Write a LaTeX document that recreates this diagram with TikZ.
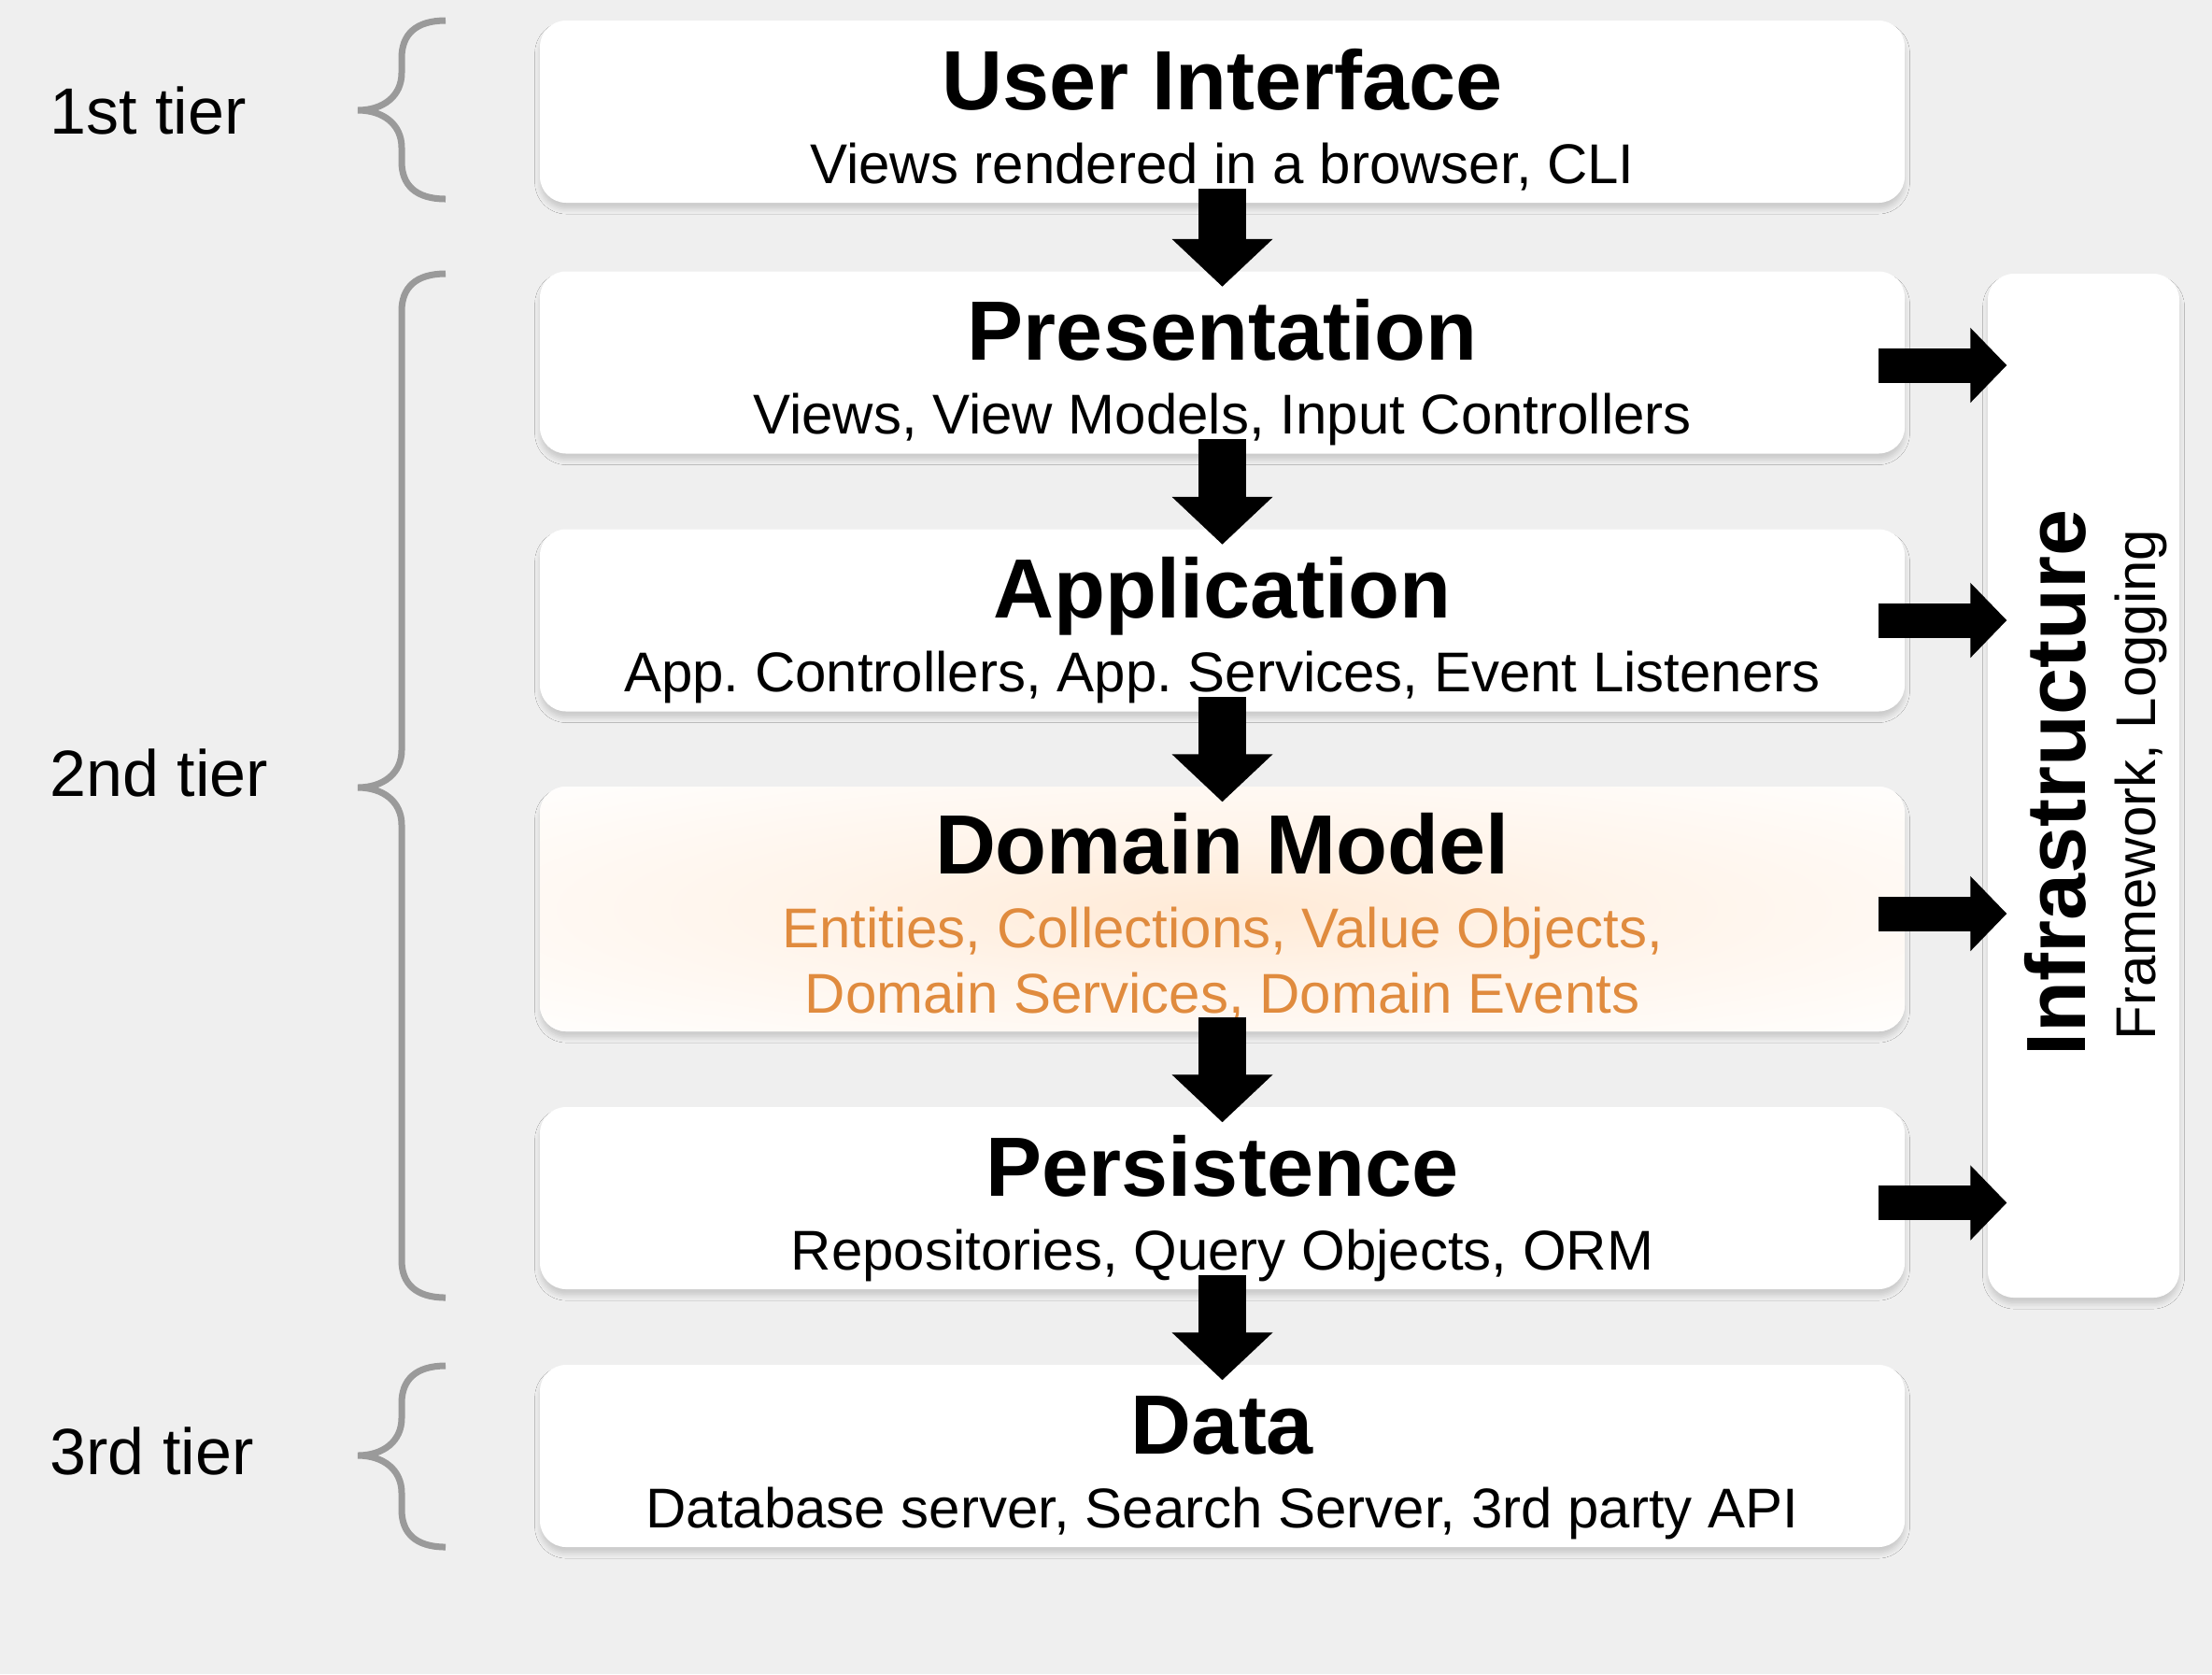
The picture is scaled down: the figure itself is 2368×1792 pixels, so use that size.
\documentclass[tikz,border=0pt]{standalone}
\usepackage{fontspec}
\setmainfont{Liberation Sans}
\usetikzlibrary{arrows.meta,calc,shadows.blur}
\definecolor{bgcol}{HTML}{EFEFEF}
\definecolor{bracegray}{HTML}{9A9A9A}
\definecolor{domorange}{HTML}{E08B3E}
\definecolor{glowA}{HTML}{FFEAD6}
\definecolor{glowB}{HTML}{FFF4EA}
\pgfdeclareradialshading{domglow}{\pgfpoint{0bp}{0bp}}{color(0bp)=(glowA); color(15bp)=(glowB); color(38bp)=(white); color(50bp)=(white)}
\frenchspacing
\begin{document}
\begin{tikzpicture}[x=0.3pt,y=-0.3pt,
  tbox/.style={rounded corners=8.4pt, fill=white, minimum width=438.3pt, minimum height=58.5pt, inner sep=0pt,
    blur shadow={shadow xshift=0pt, shadow yshift=-2pt, shadow blur radius=1.6pt, shadow opacity=15}},
  ttl/.style={font=\fontsize{27}{32}\selectfont\bfseries, anchor=base, inner sep=0pt},
  sub/.style={font=\fontsize{18}{20.4}\selectfont, anchor=base, inner sep=0pt},
  tier/.style={font=\fontsize{21}{25}\selectfont, anchor=base west, inner sep=0pt},
  brace/.style={draw=bracegray, line width=2.1pt},
  downarrow/.style={line width=15.3pt, -{Triangle[length=15.3pt,width=31.5pt]}},
  rightarrow/.style={line width=11.1pt, -{Triangle[length=11.7pt,width=23.4pt]}},
]
\useasboundingbox (0,0) rectangle (2368,1792);
\fill[bgcol] (0,0) rectangle (2368,1792);

% layer boxes
\node[tbox] (ui) at (1308.5,119.5) {};
\node[tbox] (pres) at (1308.5,388) {};
\node[tbox] (app) at (1308.5,664) {};
\node[tbox, minimum height=78.6pt, shade, shading=domglow] (dom) at (1308.5,973) {};
\node[tbox] (pers) at (1308.5,1282.5) {};
\node[tbox] (data) at (1308.5,1558.5) {};
\node[tbox, minimum width=61.5pt, minimum height=328.8pt] (infra) at (2230.5,841) {};

% texts
\node[ttl] (ui-t) at ($(ui.north)+(0,96)$) {User Interface};
\node[sub] (ui-s) at ($(ui.north)+(0,175)$) {Views rendered in a browser, CLI};
\node[ttl] (pres-t) at ($(pres.north)+(0,96)$) {Presentation};
\node[sub] (pres-s) at ($(pres.north)+(0,175)$) {Views, View Models, Input Controllers};
\node[ttl] (app-t) at ($(app.north)+(0,96)$) {Application};
\node[sub] (app-s) at ($(app.north)+(0,175)$) {App. Controllers, App. Services, Event Listeners};
\node[ttl] (dom-t) at ($(dom.north)+(0,94)$) {Domain Model};
\node[sub, text=domorange] (dom-s1) at ($(dom.north)+(0,173)$) {Entities, Collections, Value Objects,};
\node[sub, text=domorange] (dom-s2) at ($(dom.north)+(0,243)$) {Domain Services, Domain Events};
\node[ttl] (pers-t) at ($(pers.north)+(0,96)$) {Persistence};
\node[sub] (pers-s) at ($(pers.north)+(0,175)$) {Repositories, Query Objects, ORM};
\node[ttl] (data-t) at ($(data.north)+(0,96)$) {Data};
\node[sub] (data-s) at ($(data.north)+(0,175)$) {Database server, Search Server, 3rd party API};

\node[ttl, rotate=90] (infra-t) at ($(infra.center)+(2,-3)$) {Infrastructure};
\node[sub, rotate=90] (infra-s) at ($(infra.center)+(77,-1)$) {Framework, Logging};

% tiers
\node[tier] (t1) at (53,143) {1st tier};
\node[tier] (t2) at (53,852) {2nd tier};
\node[tier] (t3) at (53,1578) {3rd tier};

\draw[brace] (477,22) .. controls (445,22) and (430,37) .. (430,62) -- (430,78)
  .. controls (430,103) and (410,118) .. (383,118)
  .. controls (410,118) and (430,133) .. (430,158) -- (430,173)
  .. controls (430,198) and (445,213) .. (477,213);
\draw[brace] (477,293) .. controls (445,293) and (430,308) .. (430,333) -- (430,803)
  .. controls (430,828) and (410,843) .. (383,843)
  .. controls (410,843) and (430,858) .. (430,883) -- (430,1349)
  .. controls (430,1374) and (445,1389) .. (477,1389);
\draw[brace] (477,1462) .. controls (445,1462) and (430,1477) .. (430,1502) -- (430,1518)
  .. controls (430,1543) and (410,1558) .. (383,1558)
  .. controls (410,1558) and (430,1573) .. (430,1598) -- (430,1616)
  .. controls (430,1641) and (445,1656) .. (477,1656);

% down arrows
\draw[downarrow] ($(ui.south)+(0,-16)$) -- ($(pres.north)+(0,17)$);
\draw[downarrow] ($(pres.south)+(0,-16)$) -- ($(app.north)+(0,17)$);
\draw[downarrow] ($(app.south)+(0,-16)$) -- ($(dom.north)+(0,17)$);
\draw[downarrow] ($(dom.south)+(0,-16)$) -- ($(pers.north)+(0,17)$);
\draw[downarrow] ($(pers.south)+(0,-16)$) -- ($(data.north)+(0,17)$);

% right arrows
\draw[rightarrow] ($(pres.east)+(-29,3)$) -- ($(pres.east -| infra.west)+(21,3)$);
\draw[rightarrow] ($(app.east)+(-29,0)$) -- ($(app.east -| infra.west)+(21,0)$);
\draw[rightarrow] ($(dom.east)+(-29,5)$) -- ($(dom.east -| infra.west)+(21,5)$);
\draw[rightarrow] ($(pers.east)+(-29,5)$) -- ($(pers.east -| infra.west)+(21,5)$);
\end{tikzpicture}
\end{document}
